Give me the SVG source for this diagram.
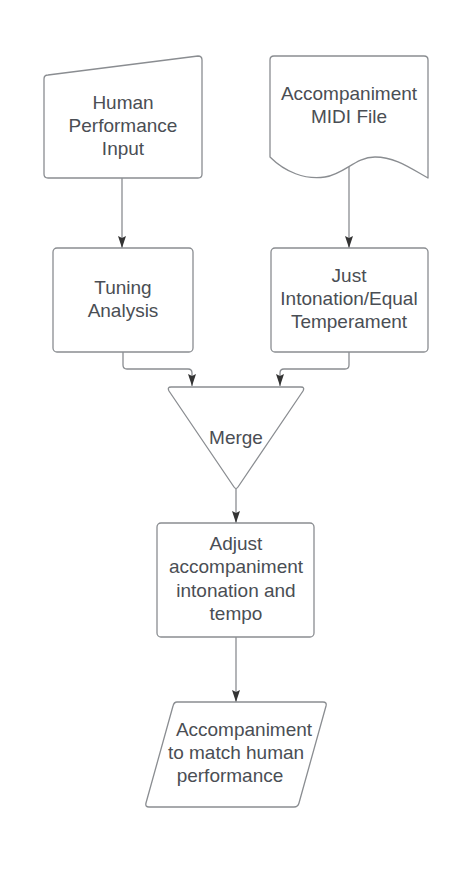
<svg xmlns="http://www.w3.org/2000/svg" width="476" height="883" viewBox="0 0 476 883">
<style>
.shape{fill:#ffffff;stroke:#8a8d91;stroke-width:1.3;stroke-linejoin:round}
.lbl{font-family:"Liberation Sans",Arial,sans-serif;font-size:19px;fill:#4a4e54;text-anchor:middle}
.conn{fill:none;stroke:#8a8d91;stroke-width:1.3}
</style>
<defs>
<marker id="arr" viewBox="0 0 12 8" refX="12" refY="4" markerWidth="12" markerHeight="8" markerUnits="userSpaceOnUse" orient="auto">
<path d="M0,0 L12,4 L0,8 L2,4 Z" fill="#333333"/>
</marker>
</defs>
<rect width="476" height="883" fill="#ffffff"/>
<g id="connectors">
<path class="conn" d="M122,178 L122,248" marker-end="url(#arr)"/>
<path class="conn" d="M349,166 L349,248" marker-end="url(#arr)"/>
<path class="conn" d="M123,352 L123,365 Q123,369 127,369 L188,369 Q192,369 192,373 L192,386" marker-end="url(#arr)"/>
<path class="conn" d="M349,352 L349,365 Q349,369 345,369 L284,369 Q280,369 280,373 L280,386" marker-end="url(#arr)"/>
<path class="conn" d="M236,489 L236,523" marker-end="url(#arr)"/>
<path class="conn" d="M236,637 L236,702" marker-end="url(#arr)"/>
</g>
<g id="human-input">
<path class="shape" d="M48,75 L198,56 Q202,56 202,60 L202,174 Q202,178 198,178 L48,178 Q44,178 44,174 L44,79 Q44,75 48,75 Z"/>
<text class="lbl" x="123" y="109">Human</text>
<text class="lbl" x="123" y="132">Performance</text>
<text class="lbl" x="123" y="155">Input</text>
</g>
<g id="midi-file">
<path class="shape" d="M274,56 L424,56 Q428,56 428,60 L428,178 C410,168 395,157 375,157 C355,157 345,174 325,177 C305,180 285,172 270,157 L270,60 Q270,56 274,56 Z"/>
<text class="lbl" x="349" y="100">Accompaniment</text>
<text class="lbl" x="349" y="123">MIDI File</text>
</g>
<g id="tuning-analysis">
<rect class="shape" x="53" y="248" width="140" height="104" rx="4"/>
<text class="lbl" x="123" y="294">Tuning</text>
<text class="lbl" x="123" y="317">Analysis</text>
</g>
<g id="just-intonation">
<rect class="shape" x="271" y="248" width="157" height="104" rx="4"/>
<text class="lbl" x="349" y="282">Just</text>
<text class="lbl" x="349" y="305">Intonation/Equal</text>
<text class="lbl" x="349" y="328">Temperament</text>
</g>
<g id="merge">
<path class="shape" d="M171,387 L301,387 Q305,387 303,391 L238,487 Q236,490 234,487 L169,391 Q167,387 171,387 Z"/>
<text class="lbl" x="236" y="444">Merge</text>
</g>
<g id="adjust">
<rect class="shape" x="157" y="523" width="157" height="114" rx="4"/>
<text class="lbl" x="236" y="550">Adjust</text>
<text class="lbl" x="236" y="573">accompaniment</text>
<text class="lbl" x="236" y="597">intonation and</text>
<text class="lbl" x="236" y="620">tempo</text>
</g>
<g id="output">
<path class="shape" d="M177,702 L323,702 Q327,702 326,706 L299,803 Q298,807 294,807 L149,807 Q145,807 146,803 L173,706 Q174,702 177,702 Z"/>
<text class="lbl" x="244" y="736">Accompaniment</text>
<text class="lbl" x="236" y="759">to match human</text>
<text class="lbl" x="230" y="782">performance</text>
</g>
</svg>
